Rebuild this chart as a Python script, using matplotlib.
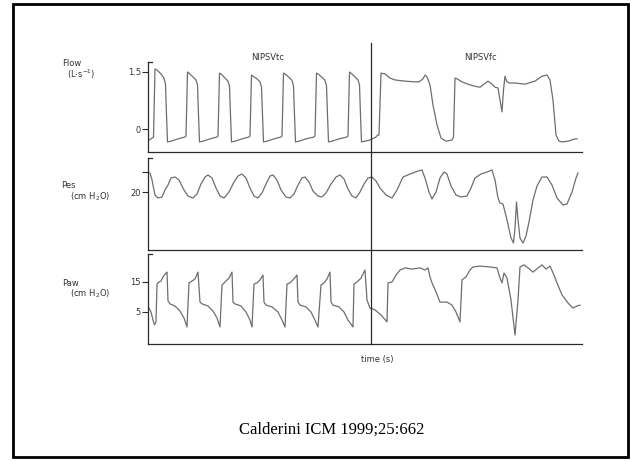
import matplotlib
matplotlib.use('Agg')
import matplotlib.pyplot as plt
from matplotlib.patches import Rectangle

# time axis in seconds, 0.1 s per grid step of the recorder chart
# ---------------- Flow (L/s) ----------------
flow_t = [0.1, 0.4, 0.55, 0.7, 0.9, 1.3, 1.6, 1.75, 1.85, 1.95, 2.3, 3.0, 3.7,
          3.8, 3.95, 4.1, 4.5, 4.8, 4.95, 5.05, 5.15, 5.5, 6.2, 6.9,
          7.0, 7.15, 7.3, 7.7, 8.0, 8.15, 8.25, 8.35, 8.7, 9.4, 10.1,
          10.2, 10.35, 10.5, 10.9, 11.2, 11.35, 11.45, 11.55, 11.9, 12.6, 13.3,
          13.4, 13.55, 13.7, 14.1, 14.4, 14.55, 14.65, 14.75, 15.1, 15.8, 16.6,
          16.7, 16.85, 17.0, 17.4, 17.7, 17.85, 17.95, 18.05, 18.4, 19.1, 19.9,
          20.0, 20.15, 20.3, 20.7, 21.0, 21.15, 21.25, 21.35, 21.7, 22.2, 22.8, 22.95,
          23.1, 23.3, 23.7, 24.2, 24.7, 25.7, 26.7, 27.1, 27.5, 27.7, 27.9, 28.2,
          28.5, 28.9, 29.3, 29.8, 30.4, 30.55, 30.7, 30.9, 31.4, 32.0, 32.6, 33.2,
          33.6, 34.0, 34.4, 34.7, 35.0, 35.4, 35.55, 35.7, 35.85, 36.1, 36.7, 37.7,
          38.7, 39.4, 39.9, 40.2, 40.5, 40.8, 41.1, 41.4, 42.0, 42.7, 42.9]
flow_v = [-0.29, -0.24, -0.21, 1.58, 1.55, 1.45, 1.34, 1.18, 0.37, -0.34, -0.32, -0.26, -0.21,
          -0.18, 1.50, 1.47, 1.37, 1.29, 1.16, 0.37, -0.34, -0.32, -0.26, -0.21,
          -0.18, 1.47, 1.45, 1.34, 1.26, 1.13, 0.37, -0.34, -0.32, -0.26, -0.21,
          -0.18, 1.42, 1.39, 1.32, 1.24, 1.10, 0.37, -0.34, -0.32, -0.26, -0.21,
          -0.18, 1.47, 1.45, 1.36, 1.28, 1.14, 0.37, -0.34, -0.32, -0.26, -0.21,
          -0.18, 1.47, 1.45, 1.36, 1.28, 1.14, 0.37, -0.34, -0.32, -0.26, -0.21,
          -0.18, 1.50, 1.47, 1.37, 1.29, 1.16, 0.37, -0.34, -0.32, -0.29, -0.21, -0.16,
          -0.16, 1.47, 1.45, 1.34, 1.29, 1.26, 1.24, 1.24, 1.32, 1.42, 1.37, 1.16,
          0.63, 0.11, -0.24, -0.32, -0.29, -0.21, 1.34, 1.32, 1.24, 1.18, 1.13, 1.10,
          1.18, 1.26, 1.18, 1.10, 1.08, 0.45, 1.03, 1.39, 1.26, 1.21, 1.21, 1.18,
          1.26, 1.39, 1.42, 1.29, 0.76, -0.16, -0.32, -0.34, -0.32, -0.26, -0.26]

# ---------------- Pes (cm H2O) ----------------
pes_t = [0.2, 0.4, 0.7, 1.0, 1.4, 1.7, 2.0, 2.3, 2.7, 3.1, 3.6, 4.0, 4.5, 4.9, 5.3,
         5.7, 6.0, 6.4, 6.8, 7.2, 7.6, 8.1, 8.6, 9.0, 9.4, 9.8, 10.2, 10.6, 11.0, 11.4,
         11.8, 12.2, 12.5, 12.9, 13.3, 13.8, 14.2, 14.6, 15.0, 15.4, 15.7, 16.1, 16.5,
         17.0, 17.3, 17.5, 17.8, 18.3, 18.8, 19.2, 19.6, 20.0, 20.4, 20.8, 21.2, 21.6,
         22.0, 22.4, 22.8, 23.2, 23.8, 24.4, 24.9, 25.5, 26.2, 27.0, 27.4, 27.7, 28.1,
         28.4, 28.8, 29.2, 29.6, 29.9, 30.3, 30.8, 31.3, 31.9, 32.3, 32.7, 33.3, 33.9,
         34.4, 34.7, 35.0, 35.2, 35.5, 35.9, 36.3, 36.55, 36.7, 36.85, 37.0, 37.2, 37.5,
         37.8, 38.1, 38.5, 38.9, 39.4, 39.9, 40.4, 40.9, 41.5, 41.9, 42.4, 42.8, 43.0]
pes_v = [29.5, 26.0, 18.5, 17.0, 17.5, 21.0, 23.5, 27.0, 27.5, 26.0, 21.0, 18.0, 17.0,
         19.0, 24.0, 27.5, 28.5, 27.0, 22.0, 18.0, 17.0, 20.0, 25.0, 28.0, 29.0, 27.0,
         22.0, 18.0, 17.0, 19.5, 24.0, 28.0, 28.5, 26.0, 21.0, 17.5, 17.0, 19.0, 23.5,
         27.0, 27.5, 25.0, 20.5, 18.0, 17.5, 18.0, 19.5, 24.0, 27.5, 28.5, 26.5, 21.5,
         18.0, 17.0, 20.0, 24.0, 27.0, 27.5, 25.5, 22.0, 18.5, 17.0, 21.0, 27.5, 29.0,
         30.5, 31.0, 27.0, 20.0, 16.5, 20.0, 27.0, 30.0, 29.0, 23.0, 18.5, 17.5, 18.0,
         22.0, 27.0, 29.0, 30.0, 31.0, 26.0, 17.0, 14.5, 14.0, 6.0, -3.0, -5.5, 2.0,
         15.0, 6.0, -3.0, -5.5, -2.0, 5.0, 16.0, 23.0, 27.5, 27.5, 23.5, 17.0, 13.5,
         14.0, 20.0, 27.0, 29.5]

# ---------------- Paw (cm H2O) ----------------
paw_t = [0.1, 0.3, 0.5, 0.65, 0.8, 0.9, 1.1, 1.3, 1.5, 1.8, 1.9, 2.0, 2.2, 2.7, 3.2, 3.6, 3.9,
         4.1, 4.4, 4.7, 5.0, 5.2, 5.4, 6.0, 6.5, 6.9, 7.2,
         7.4, 7.7, 8.1, 8.4, 8.5, 8.7, 9.3, 9.8, 10.2, 10.4,
         10.6, 10.9, 11.2, 11.5, 11.6, 11.8, 12.4, 13.0, 13.4, 13.7,
         13.9, 14.2, 14.5, 14.9, 15.0, 15.2, 15.8, 16.3, 16.7, 17.0,
         17.3, 17.6, 17.9, 18.2, 18.3, 18.5, 19.1, 19.6, 20.0, 20.5,
         20.6, 20.9, 21.3, 21.7, 21.9, 22.2, 22.7, 23.3, 23.9, 24.0, 24.4, 24.8, 25.2,
         25.7, 26.4, 27.2, 27.7, 28.0, 28.2, 28.4, 28.8, 29.2, 29.9, 30.4, 30.8, 31.2,
         31.4, 31.8, 32.2, 32.5, 33.2, 34.2, 34.9, 35.2, 35.4, 35.6, 35.9, 36.3, 36.7,
         37.0, 37.2, 37.6, 38.0, 38.5, 39.0, 39.4, 39.8, 40.2, 40.6, 40.9, 41.4, 42.0,
         42.5, 42.9, 43.2]
paw_v = [6.3, 5.0, 2.3, 0.7, 1.7, 14.3, 15.0, 15.3, 16.7, 18.0, 18.3, 8.7, 7.7, 7.0, 5.3, 3.0, 0.0,
         14.7, 15.3, 16.0, 18.3, 8.3, 7.7, 7.0, 5.3, 3.0, 0.0,
         14.0, 15.0, 16.3, 18.3, 8.3, 7.7, 7.0, 5.0, 2.3, 0.0,
         14.3, 14.7, 15.7, 17.3, 8.3, 7.3, 6.7, 5.0, 2.3, 0.0,
         14.3, 14.7, 15.7, 17.3, 8.3, 7.3, 6.7, 5.0, 2.3, 0.0,
         14.0, 14.7, 16.0, 18.3, 8.3, 7.3, 6.7, 5.0, 2.3, 0.0,
         14.3, 15.0, 16.3, 19.0, 9.0, 6.3, 5.7, 4.0, 1.7, 14.7, 15.0, 17.3, 19.0,
         19.7, 19.3, 19.7, 19.0, 19.7, 16.7, 14.7, 11.7, 8.3, 8.3, 7.3, 5.0, 1.7,
         15.7, 16.7, 19.0, 20.0, 20.3, 20.0, 19.7, 16.3, 14.7, 18.0, 16.3, 9.0, -2.7,
         9.0, 20.0, 20.7, 19.7, 18.3, 19.7, 20.7, 19.3, 20.3, 17.3, 14.7, 10.7, 8.0,
         6.3, 7.0, 7.3]

switch_t = 22.3  # NIPSVtc -> NIPSVfc

trace_col = '#6e6e6e'
frame_col = '#2a2a2a'

fig = plt.figure(figsize=(6.31, 4.61), dpi=100)
W, H = 631.0, 461.0

def panel(top, bottom):
    return fig.add_axes([148 / W, 1 - bottom / H, 434 / W, (bottom - top) / H])

ax1 = panel(62, 152)
ax2 = panel(158, 250)
ax3 = panel(254, 344)

ax1.plot(flow_t, flow_v, color=trace_col, lw=0.9)
ax1.set_ylim(-0.605, 1.763)
ax1.set_yticks([0, 1.5])
ax1.set_yticklabels(['0', '1.5'])

ax2.plot(pes_t, pes_v, color=trace_col, lw=0.9)
ax2.set_ylim(-9, 37)
ax2.set_yticks([20, 30])
ax2.set_yticklabels(['20', ''])

ax3.plot(paw_t, paw_v, color=trace_col, lw=0.9)
ax3.set_ylim(-5.67, 24.33)
ax3.set_yticks([5, 15])
ax3.set_yticklabels(['5', '15'])

for ax in (ax1, ax2, ax3):
    ax.set_xlim(0, 43.4)
    ax.set_xticks([])
    ax.patch.set_alpha(0)
    for s in ('top', 'right'):
        ax.spines[s].set_visible(False)
    for s in ('left', 'bottom'):
        ax.spines[s].set_color(frame_col)
        ax.spines[s].set_linewidth(0.9)
    ax.tick_params(axis='y', length=4, width=0.8, color=frame_col, pad=1,
                   labelsize=6, labelcolor='#333333')
    # little bracket cap at the top of the scale bar
    ax.plot([0, 0.009], [1, 1], transform=ax.transAxes, color=frame_col,
            lw=0.9, clip_on=False)

# vertical marker where the mode changes, through all three traces
ax3.axvline(switch_t, ymin=0, ymax=(344 - 43) / 90.0, color=frame_col,
            lw=0.9, clip_on=False)

def ftext(px, py, s, **kw):
    fig.text(px / W, 1 - py / H, s, **kw)

lab = dict(fontsize=6, color='#333333', va='center')
ftext(268, 58, 'NIPSVtc', ha='center', **lab)
ftext(480, 58, 'NIPSVfc', ha='center', **lab)
ftext(62, 63, 'Flow', ha='left', **lab)
ftext(67, 74, '(L$\\cdot$s$^{-1}$)', ha='left', **lab)
ftext(61, 186, 'Pes', ha='left', **lab)
ftext(70, 197, '(cm H$_2$O)', ha='left', **lab)
ftext(62, 283, 'Paw', ha='left', **lab)
ftext(70, 294, '(cm H$_2$O)', ha='left', **lab)
ftext(377, 359, 'time (s)', ha='center', **lab)

ftext(332, 430, 'Calderini ICM 1999;25:662', ha='center', va='center',
      fontsize=12, family='Liberation Serif', color='black')

# slide frame
fig.patches.append(Rectangle((13 / W, 1 - 457 / H), 615 / W, 453 / H,
                             transform=fig.transFigure, fill=False,
                             edgecolor='black', lw=2))

fig.savefig('out.png', dpi=100)
